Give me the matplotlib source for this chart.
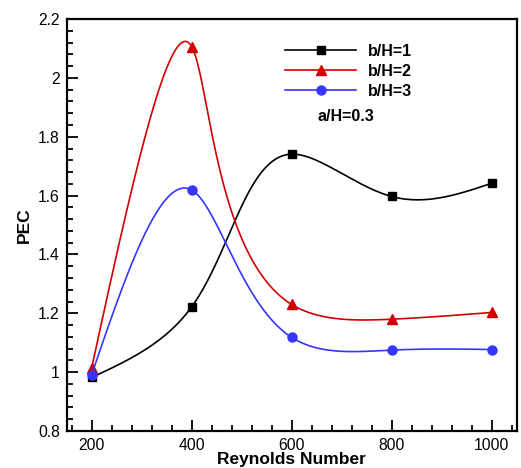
import numpy as np
import matplotlib.pyplot as plt
from matplotlib.ticker import MultipleLocator

plt.rcParams['font.family'] = ['Liberation Sans', 'DejaVu Sans']

reynolds = [200, 400, 600, 800, 1000]
pec_b1 = [0.982, 1.222, 1.741, 1.597, 1.642]
pec_b2 = [1.015, 2.106, 1.230, 1.180, 1.203]
pec_b3 = [0.992, 1.619, 1.118, 1.075, 1.077]
labels = ['b/H=1', 'b/H=2', 'b/H=3']

XLIM = (150, 1050)
YLIM = (0.8, 2.2)


def natural_coeffs(t, y):
    """Second derivatives of a natural cubic spline"""
    k = len(t)
    h = np.diff(t)
    A = np.zeros((k, k))
    r = np.zeros(k)
    A[0, 0] = A[-1, -1] = 1.0
    for i in range(1, k - 1):
        A[i, i - 1] = h[i - 1]
        A[i, i] = 2 * (h[i - 1] + h[i])
        A[i, i + 1] = h[i]
        r[i] = 6 * ((y[i + 1] - y[i]) / h[i] - (y[i] - y[i - 1]) / h[i - 1])
    return np.linalg.solve(A, r)


def eval_spline(t, y, m, ts):
    idx = np.clip(np.searchsorted(t, ts) - 1, 0, len(t) - 2)
    t0, t1 = t[idx], t[idx + 1]
    hh = t1 - t0
    a = (t1 - ts) / hh
    b = (ts - t0) / hh
    return (a * y[idx] + b * y[idx + 1]
            + ((a ** 3 - a) * m[idx] + (b ** 3 - b) * m[idx + 1]) * hh ** 2 / 6)


def parametric_spline(x, y, sx, sy, n=600):
    """Chord-length parametric spline, chords measured in screen pixels"""
    x = np.asarray(x, float)
    y = np.asarray(y, float)
    px, py = x * sx, y * sy
    t = np.concatenate([[0], np.cumsum(np.hypot(np.diff(px), np.diff(py)))])
    ts = np.linspace(0, t[-1], n)
    xs = eval_spline(t, x, natural_coeffs(t, x), ts)
    ys = eval_spline(t, y, natural_coeffs(t, y), ts)
    return xs, ys


fig = plt.figure(figsize=(5.21, 4.68), dpi=100)
ax = fig.add_axes([0.128, 0.079, 0.8637, 0.8803])

# pixels per data unit, to measure the chords like the screen does
sx = 450 / (XLIM[1] - XLIM[0])
sy = 412 / (YLIM[1] - YLIM[0])

series = [
    (pec_b1, 'black', 's', 5.5),
    (pec_b2, '#d40000', '^', 6.5),
    (pec_b3, '#3535ff', 'o', 6.5),
]
for (vals, col, mk, ms), lab in zip(series, labels):
    xs, ys = parametric_spline(reynolds, vals, sx, sy)
    ax.plot(xs, ys, color=col, lw=1.2)
    ax.plot(reynolds, vals, linestyle='none', marker=mk, color=col, ms=ms)
    ax.plot([], [], color=col, lw=1.2, marker=mk, ms=ms, label=lab)

ax.set_xlim(*XLIM)
ax.set_ylim(*YLIM)
ax.xaxis.set_major_locator(MultipleLocator(200))
ax.xaxis.set_minor_locator(MultipleLocator(40))
ax.yaxis.set_minor_locator(MultipleLocator(0.04))
ax.set_yticks([0.8, 1.0, 1.2, 1.4, 1.6, 1.8, 2.0, 2.2])
ax.set_yticklabels(['0.8', '1', '1.2', '1.4', '1.6', '1.8', '2', '2.2'])
ax.tick_params(which='both', direction='in', width=1.3, labelsize=11.3)
ax.tick_params(which='major', length=8, pad=5)
ax.tick_params(which='minor', length=4.5)
ax.tick_params(axis='x', pad=5)
ax.tick_params(top=False, right=False)
for sp in ax.spines.values():
    sp.set_linewidth(1.6)

ax.set_xlabel('Reynolds Number', fontsize=12.5, fontweight='bold')
ax.xaxis.set_label_coords(0.5, -0.0875)
ax.xaxis.label.set_va('bottom')
ax.set_ylabel('PEC', fontsize=12.5, fontweight='bold')
ax.yaxis.set_label_coords(-0.093, 0.5)
ax.yaxis.label.set_va('center')

ax.legend(loc='upper left', bbox_to_anchor=(0.47, 0.955), frameon=False,
          prop={'weight': 'bold', 'size': 11.5}, handlelength=4.5,
          handletextpad=0.7, labelspacing=0.3, borderaxespad=0)
ax.text(0.557, 0.763, 'a/H=0.3', transform=ax.transAxes, fontsize=11.5,
        fontweight='bold', va='center', ha='left')

fig.savefig('out.png', dpi=100)
